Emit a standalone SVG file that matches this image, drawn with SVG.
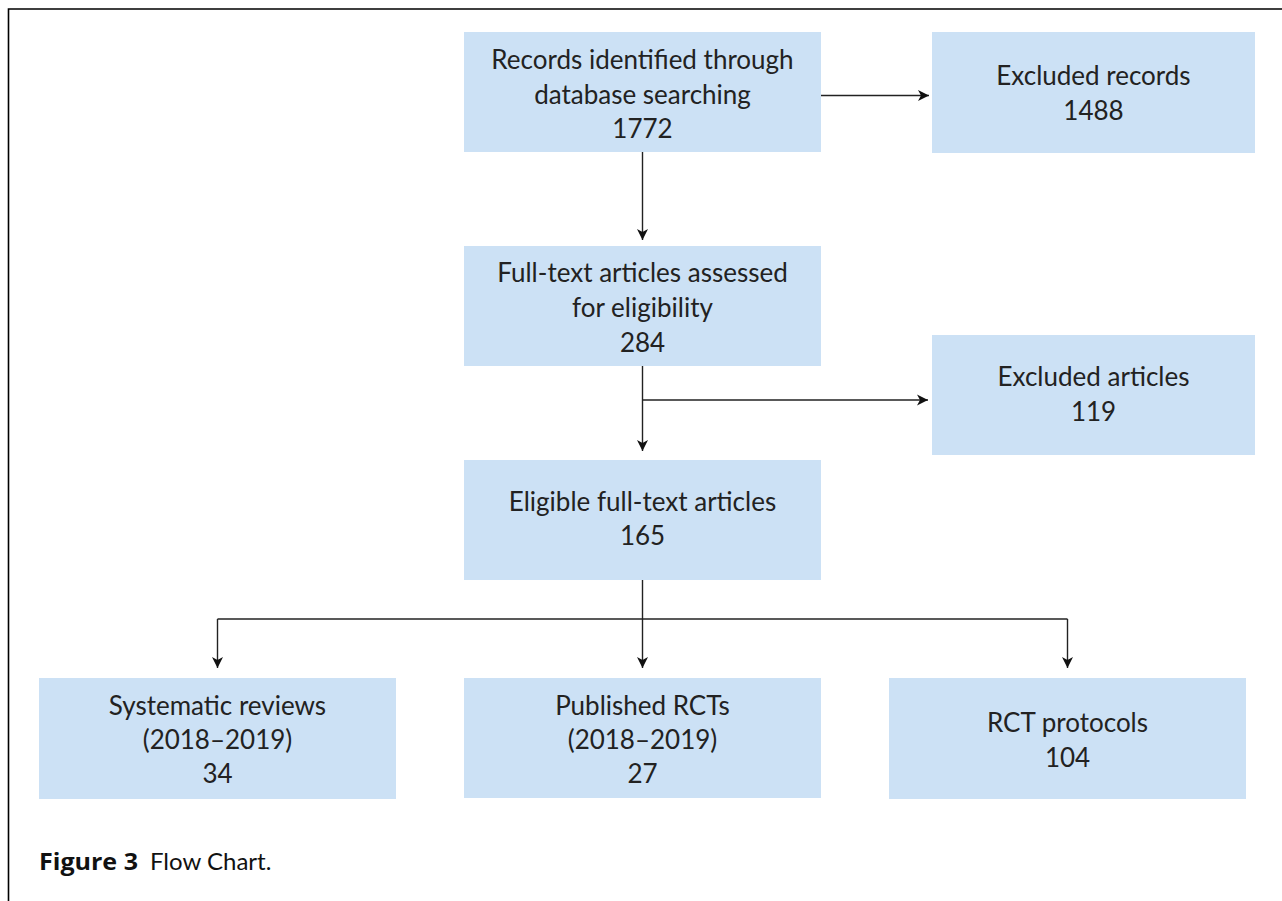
<svg xmlns="http://www.w3.org/2000/svg" width="1282" height="901" viewBox="0 0 1282 901">
<style>
.box{fill:#cce1f5;}
.t{font-family:Lato,"Open Sans","DejaVu Sans",sans-serif;font-size:26px;font-weight:400;fill:#222;text-anchor:middle;}
.c{stroke:#222;stroke-width:1.4;fill:none;}
.frame{stroke:#000;stroke-width:1.6;fill:none;}
.cap{font-family:Lato,"Open Sans",sans-serif;font-size:24px;fill:#111;}
.capb{font-family:"Open Sans",Lato,sans-serif;font-size:24px;font-weight:bold;fill:#111;}
</style>
<defs>
<marker id="ah" markerUnits="userSpaceOnUse" markerWidth="12" markerHeight="12" viewBox="0 0 12 12" refX="11" refY="6" orient="auto">
<path d="M0,0.5 L11,6 L0,11.5 L3,6 z" fill="#111"/>
</marker>
</defs>
<rect width="1282" height="901" fill="#fff"/>
<path class="frame" d="M1282,9 H8.5 V901"/>

<g id="n1">
<rect class="box" x="464" y="32" width="357" height="120"/>
<text class="t" x="642.5" y="69">Records identified through</text>
<text class="t" x="642.5" y="103.5">database searching</text>
<text class="t" x="642.5" y="138">1772</text>
</g>
<g id="n2">
<rect class="box" x="932" y="32" width="323" height="121"/>
<text class="t" x="1093.5" y="85">Excluded records</text>
<text class="t" x="1093.5" y="120">1488</text>
</g>
<g id="n3">
<rect class="box" x="464" y="246" width="357" height="120"/>
<text class="t" x="642.5" y="281.5">Full-text articles assessed</text>
<text class="t" x="642.5" y="316.5">for eligibility</text>
<text class="t" x="642.5" y="351.5">284</text>
</g>
<g id="n4">
<rect class="box" x="932" y="335" width="323" height="120"/>
<text class="t" x="1093.5" y="386">Excluded articles</text>
<text class="t" x="1093.5" y="420.5">119</text>
</g>
<g id="n5">
<rect class="box" x="464" y="460" width="357" height="120"/>
<text class="t" x="642.5" y="510.5">Eligible full-text articles</text>
<text class="t" x="642.5" y="545">165</text>
</g>
<g id="n6">
<rect class="box" x="39" y="678" width="357" height="121"/>
<text class="t" x="217.5" y="715">Systematic reviews</text>
<text class="t" x="217.5" y="749">(2018–2019)</text>
<text class="t" x="217.5" y="783">34</text>
</g>
<g id="n7">
<rect class="box" x="464" y="678" width="357" height="120"/>
<text class="t" x="642.5" y="715">Published RCTs</text>
<text class="t" x="642.5" y="749">(2018–2019)</text>
<text class="t" x="642.5" y="783">27</text>
</g>
<g id="n8">
<rect class="box" x="889" y="678" width="357" height="121"/>
<text class="t" x="1067.5" y="732">RCT protocols</text>
<text class="t" x="1067.5" y="766.5">104</text>
</g>

<g id="connectors">
<path class="c" d="M642.5,152 V240" marker-end="url(#ah)"/>
<path class="c" d="M821,95.5 H929" marker-end="url(#ah)"/>
<path class="c" d="M642.5,366 V451" marker-end="url(#ah)"/>
<path class="c" d="M642.5,400 H928" marker-end="url(#ah)"/>
<path class="c" d="M642.5,580 V668" marker-end="url(#ah)"/>
<path class="c" d="M217.5,619 H1067.5"/>
<path class="c" d="M217.5,619 V668" marker-end="url(#ah)"/>
<path class="c" d="M1067.5,619 V668" marker-end="url(#ah)"/>
</g>

<g id="caption">
<text class="capb" x="39" y="870" textLength="99" lengthAdjust="spacingAndGlyphs">Figure 3</text>
<text class="cap" x="150" y="870">Flow Chart.</text>
</g>
</svg>
